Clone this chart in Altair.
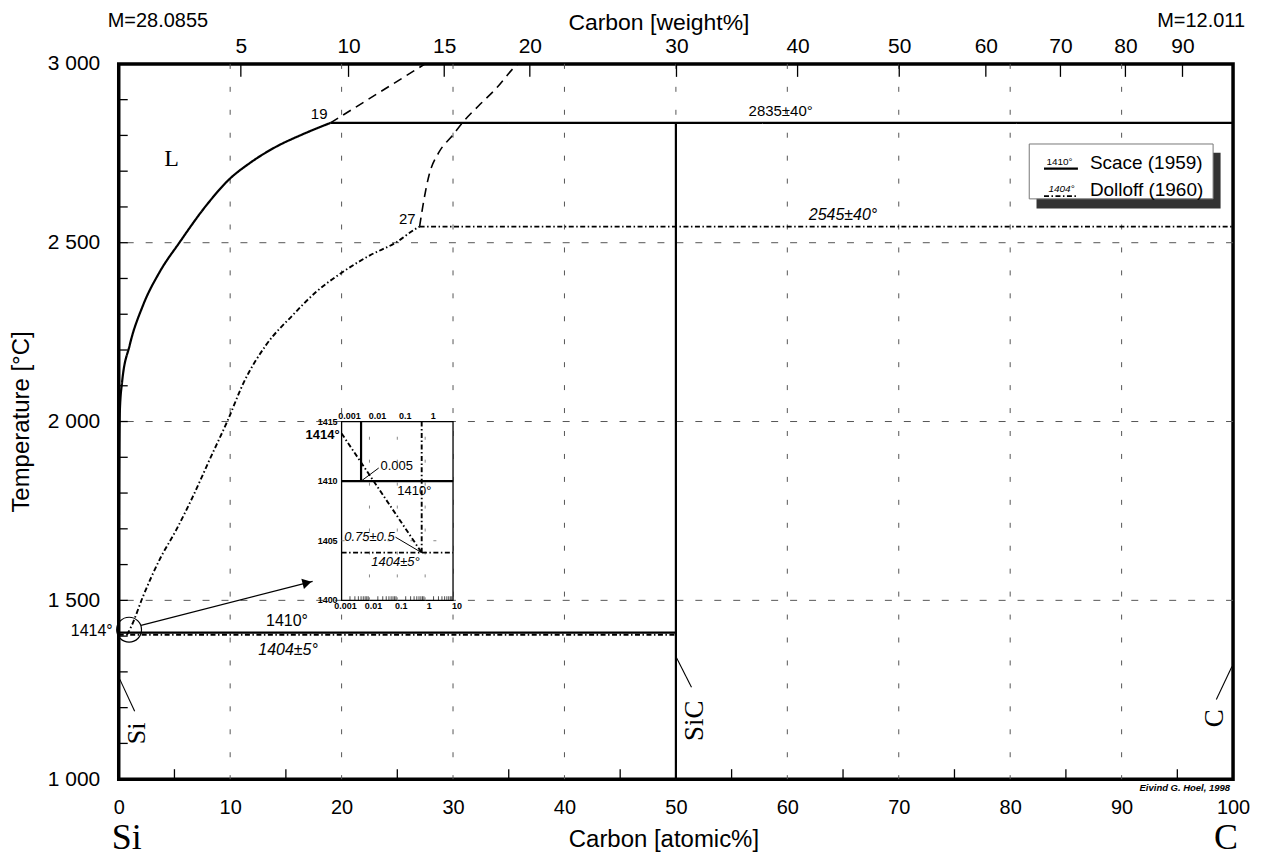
import altair as alt
import pandas as pd

# ------------------------------------------------------------------ data
M_SI, M_C = 28.0855, 12.011

# Scace (1959) liquidus  (carbon atomic %, temperature °C)
scace_liq_at = [0.0, 0.03, 0.1, 0.3, 0.98, 2.18, 3.67, 5.46, 7.85, 9.94, 11.73, 14.1, 16.5, 19.0]
scace_liq_T = [1414, 1850, 2030, 2110, 2213, 2325, 2418, 2501, 2604, 2678, 2722, 2768, 2803, 2835]
scace_ext_at = [19.0, 27.5]
scace_ext_T = [2835, 3000]

# Dolloff (1960) liquidus
dolloff_liq_at = [0.75, 1.14, 2.18, 3.67, 5.16, 6.65, 8.15, 9.79, 11.2, 13.2, 15.6, 17.7, 20.1, 22.5, 24.9, 26.6, 27.0]
dolloff_liq_T = [1404, 1428, 1511, 1614, 1697, 1790, 1893, 2004, 2108, 2213, 2297, 2362, 2418, 2464, 2501, 2538, 2545]
dolloff_ext_at = [27.0, 27.4, 27.84, 28.74, 29.93, 31.0, 32.3, 33.8, 35.6, 35.8]
dolloff_ext_T = [2545, 2622, 2688, 2753, 2799, 2841, 2883, 2929, 2994, 3000]

# invariant lines and the SiC line
seg_style = ["Scace (1959)", "Dolloff (1960)", "Scace (1959)", "Dolloff (1960)", "Scace (1959)"]
seg_x1 = [19, 27, 0, 0, 50]
seg_T1 = [2835, 2545, 1410, 1404, 1000]
seg_x2 = [100, 100, 50, 50, 50]
seg_T2 = [2835, 2545, 1410, 1404, 2835]

# inset (log carbon atomic %, °C)
inset_x_dom = [0.001, 10]
inset_T_dom = [1400, 1415]
iseg_style = ["Scace (1959)", "Scace (1959)", "Dolloff (1960)", "Dolloff (1960)", "Dolloff (1960)"]
iseg_x1 = [0.005, 0.001, 0.001, 0.75, 0.001]
iseg_T1 = [1410, 1410, 1414, 1404, 1404]
iseg_x2 = [0.005, 10, 0.75, 0.75, 10]
iseg_T2 = [1415, 1410, 1404, 1415, 1404]
inset_xtick_vals = [0.001, 0.01, 0.1, 1, 10]
inset_xtick_text = ["0.001", "0.01", "0.1", "1", "10"]
inset_ytick_vals = [1400, 1405, 1410, 1415]

# axes
bottom_vals = list(range(0, 101, 10))
grid_x = list(range(10, 100, 10))
grid_T = [1500, 2000, 2500]
minor_x = list(range(5, 100, 10))
minor_T = list(range(1100, 3000, 100))
top_wt = [5, 10, 15, 20, 30, 40, 50, 60, 70, 80, 90]
top_at = [100 * (w / M_C) / ((w / M_C) + ((100 - w) / M_SI)) for w in top_wt]

# ------------------------------------------------------------------ setup
W, H = 1117, 717
X0, X1, T0, T1 = 0, 100, 1000, 3000
FONT = "Liberation Sans"
SERIF = "Liberation Serif"


def px_x(v):
    return W * (v - X0) / (X1 - X0)


def px_y(v):
    return H * (T1 - v) / (T1 - T0)


xs = alt.Scale(domain=[X0, X1], nice=False, zero=False)
ys = alt.Scale(domain=[T0, T1], nice=False, zero=False)
ixs = alt.Scale(type="log", domain=inset_x_dom, range=[px_x(20), px_x(30)], nice=False)
iys = alt.Scale(domain=inset_T_dom, range=[px_y(1500), px_y(2000)], nice=False, zero=False)

styles = ["Scace (1959)", "Dolloff (1960)", "uncertain"]
dash_scale = alt.Scale(domain=styles, range=[[1, 0], [5, 2.5, 1.5, 2.5], [9, 6]])
width_scale = alt.Scale(domain=styles, range=[2.2, 1.6, 2.0])
legend = alt.Legend(
    values=styles[:2], orient="none", legendX=934.5, legendY=95, title=None,
    symbolType="M-2,0H2", symbolSize=289, symbolStrokeWidth=2, symbolStrokeColor="black",
    labelFont=FONT, labelFontSize=19, labelColor="black", labelOffset=19,
    labelBaseline="alphabetic", rowPadding=7, padding=0,
)
dash_enc = alt.StrokeDash("style:N", scale=dash_scale, legend=legend)
sw_enc = alt.StrokeWidth("style:N", scale=width_scale, legend=None)


def MX(f, scale=xs, axis=None):
    return alt.X(f, type="quantitative", scale=scale, axis=axis)


def MY(f, scale=ys, axis=None):
    return alt.Y(f, type="quantitative", scale=scale, axis=axis)


one = pd.DataFrame({"d": [0]})

bottom_axis = alt.Axis(
    orient="bottom", values=bottom_vals, ticks=False, tickSize=0, domain=False, grid=False,
    labelFont=FONT, labelFontSize=20, labelColor="black", labelPadding=18, labelFlush=False,
    labelOverlap=False, title="Carbon [atomic%]", titleFont=FONT, titleFontSize=24,
    titleFontWeight="normal", titleColor="black", titlePadding=10, titleX=546,
)
left_axis = alt.Axis(
    values=[1000, 1500, 2000, 2500, 3000], labelExpr="replace(format(datum.value, ','), ',', ' ')",
    ticks=False, tickSize=0, domain=False, grid=False, labelFont=FONT, labelFontSize=21,
    labelColor="black", labelPadding=19, labelOverlap=False, labelFlush=False,
    title="Temperature [°C]", titleFont=FONT, titleFontSize=24, titleFontWeight="normal",
    titleColor="black", titlePadding=14,
)
top_axis = alt.Axis(
    orient="top", values=top_at,
    labelExpr=f"format({100*M_C}*datum.value/({M_C}*datum.value+{M_SI}*(100-datum.value)), '.0f')",
    ticks=False, tickSize=0, domain=False, grid=False, labelFont=FONT, labelFontSize=21,
    labelColor="black", labelPadding=7, labelFlush=False, labelOverlap=False,
    title="Carbon  [weight%]", titleFont=FONT, titleFontSize=23, titleFontWeight="normal",
    titleColor="black", titlePadding=1, titleX=541,
)

layers = []

# grid
layers.append(alt.Chart(pd.DataFrame({"v": grid_x})).mark_rule(color="#555", strokeWidth=1, strokeDash=[5, 18])
              .encode(x=MX("v", axis=bottom_axis)))
layers.append(alt.Chart(pd.DataFrame({"v": grid_T})).mark_rule(color="#555", strokeWidth=1, strokeDash=[7, 12])
              .encode(y=MY("v", axis=left_axis)))
# inward ticks
layers.append(alt.Chart(pd.DataFrame({"v": minor_x})).mark_rule(color="black", strokeWidth=1.3)
              .encode(x=MX("v"), y=alt.value(H), y2=alt.value(H - 10)))
layers.append(alt.Chart(pd.DataFrame({"v": minor_T})).mark_rule(color="black", strokeWidth=1.3)
              .encode(y=MY("v"), x=alt.value(0), x2=alt.value(9)))
layers.append(alt.Chart(pd.DataFrame({"v": top_at})).mark_rule(color="black", strokeWidth=1.3)
              .encode(x=MX("v", axis=top_axis), y=alt.value(0), y2=alt.value(13)))

# ---- inset
inset_frame = pd.DataFrame({"x1": [inset_x_dom[0]], "x2": [inset_x_dom[1]], "t1": [inset_T_dom[0]], "t2": [inset_T_dom[1]]})
layers.append(alt.Chart(inset_frame).mark_rect(fill="white", stroke="black", strokeWidth=1.3)
              .encode(x=MX("x1", ixs), x2="x2:Q", y=MY("t1", iys), y2="t2:Q"))
igrid_v = pd.DataFrame({"x": [0.01, 0.1, 1], "t1": [1400] * 3, "t2": [1415] * 3})
layers.append(alt.Chart(igrid_v).mark_rule(color="#888", strokeWidth=1, strokeDash=[3, 20])
              .encode(x=MX("x", ixs), y=MY("t1", iys), y2="t2:Q"))
igrid_h = pd.DataFrame({"t": [1405], "x1": [0.001], "x2": [10]})
layers.append(alt.Chart(igrid_h).mark_rule(color="#888", strokeWidth=1, strokeDash=[3, 20])
              .encode(y=MY("t", iys), x=MX("x1", ixs), x2="x2:Q"))
iminor = [k * 10.0 ** e for e in (-3, -2, -1, 0) for k in range(2, 10)]
layers.append(alt.Chart(pd.DataFrame({"x": iminor, "t": [1400] * len(iminor)}))
              .mark_tick(orient="vertical", size=4, thickness=1, color="black", yOffset=-2)
              .encode(x=MX("x", ixs), y=MY("t", iys)))
isegs = pd.DataFrame({"style": iseg_style, "x1": iseg_x1, "t1": iseg_T1, "x2": iseg_x2, "t2": iseg_T2})
layers.append(alt.Chart(isegs).mark_rule(color="black")
              .encode(x=MX("x1", ixs), x2="x2:Q", y=MY("t1", iys), y2="t2:Q", strokeDash=dash_enc, strokeWidth=sw_enc))
# inset tick labels
ixl_top = pd.DataFrame({"x": inset_xtick_vals[:4], "t": [1415] * 4, "label": inset_xtick_text[:4]})
layers.append(alt.Chart(ixl_top).mark_text(font=FONT, fontSize=9, fontWeight="bold", baseline="bottom", dy=-1, dx=8)
              .encode(x=MX("x", ixs), y=MY("t", iys), text="label:N"))
ixl_bot = pd.DataFrame({"x": inset_xtick_vals, "t": [1400] * 5, "label": inset_xtick_text})
layers.append(alt.Chart(ixl_bot).mark_text(font=FONT, fontSize=9, fontWeight="bold", baseline="top", dy=2, dx=4)
              .encode(x=MX("x", ixs), y=MY("t", iys), text="label:N"))
iyl = pd.DataFrame({"x": [0.001] * 4, "t": inset_ytick_vals, "label": [str(v) for v in inset_ytick_vals]})
layers.append(alt.Chart(iyl).mark_text(font=FONT, fontSize=9, fontWeight="bold", align="right", dx=-4)
              .encode(x=MX("x", ixs), y=MY("t", iys), text="label:N"))
# inset annotations
ia_plain = pd.DataFrame({"label": ["0.005", "1410°"], "x": [0.0248, 0.1], "t": [1411.25, 1409.17]})
layers.append(alt.Chart(ia_plain).mark_text(font=FONT, fontSize=13, align="left")
              .encode(x=MX("x", ixs), y=MY("t", iys), text="label:N"))
ia_it = pd.DataFrame({"label": ["0.75±0.5", "1404±5°"], "x": [0.01, 0.086], "t": [1405.3, 1403.2]})
layers.append(alt.Chart(ia_it).mark_text(font=FONT, fontSize=13, fontStyle="italic")
              .encode(x=MX("x", ixs), y=MY("t", iys), text="label:N"))
layers.append(alt.Chart(pd.DataFrame({"label": ["1414°"], "x": [0.001], "t": [1413.9]}))
              .mark_text(font=FONT, fontSize=13, fontWeight="bold", align="right", dx=-2)
              .encode(x=MX("x", ixs), y=MY("t", iys), text="label:N"))
ileader = pd.DataFrame({"x1": [0.005, 0.75], "t1": [1410, 1404], "x2": [0.0215, 0.086], "t2": [1411.1, 1405.3]})
layers.append(alt.Chart(ileader).mark_rule(color="black", strokeWidth=1)
              .encode(x=MX("x1", ixs), x2="x2:Q", y=MY("t1", iys), y2="t2:Q"))

# ---- main phase lines
rows = []
for name, style, xa, ta in [
    ("scace_liq", "Scace (1959)", scace_liq_at, scace_liq_T),
    ("scace_ext", "uncertain", scace_ext_at, scace_ext_T),
    ("dolloff_liq", "Dolloff (1960)", dolloff_liq_at, dolloff_liq_T),
    ("dolloff_ext", "uncertain", dolloff_ext_at, dolloff_ext_T),
]:
    for i, (a, t) in enumerate(zip(xa, ta)):
        rows.append({"curve": name, "style": style, "at": a, "T": t, "ord": i})
curves = pd.DataFrame(rows)
layers.append(alt.Chart(curves).mark_line(color="black", interpolate="monotone")
              .encode(x=MX("at"), y=MY("T"), detail="curve:N", order="ord:Q",
                      strokeDash=dash_enc, strokeWidth=sw_enc))
segs = pd.DataFrame({"style": seg_style, "x1": seg_x1, "t1": seg_T1, "x2": seg_x2, "t2": seg_T2})
layers.append(alt.Chart(segs).mark_rule(color="black")
              .encode(x=MX("x1"), x2="x2:Q", y=MY("t1"), y2="t2:Q", strokeDash=dash_enc, strokeWidth=sw_enc))

# leader lines and arrow
leaders = pd.DataFrame({"x1": [0.1, 50, 99.9, 2.0], "t1": [1279, 1343, 1315, 1430],
                        "x2": [1.43, 51.4, 98.5, 17.4], "t2": [1190, 1257, 1223, 1553]})
layers.append(alt.Chart(leaders).mark_rule(color="black", strokeWidth=1.1)
              .encode(x=MX("x1"), x2="x2:Q", y=MY("t1"), y2="t2:Q"))
layers.append(alt.Chart(pd.DataFrame({"x": [16.9], "t": [1549]}))
              .mark_point(shape="triangle-right", filled=True, size=110, angle=345.7, color="black", opacity=1)
              .encode(x=MX("x"), y=MY("t")))
layers.append(alt.Chart(pd.DataFrame({"x": [0.93], "t": [1418]}))
              .mark_point(shape="circle", filled=False, size=620, strokeWidth=1.2, color="black", opacity=1)
              .encode(x=MX("x"), y=MY("t")))


# ---- annotations
def ann(label, x, t, **mk):
    return (alt.Chart(pd.DataFrame({"label": [label], "x": [x], "t": [t]}))
            .mark_text(**mk).encode(x=MX("x"), y=MY("t"), text="label:N"))


layers += [
    ann("19", 19, 2835, font=FONT, fontSize=15, align="right", baseline="bottom", dx=-3, dy=-1),
    ann("27", 27, 2545, font=FONT, fontSize=15, align="right", baseline="bottom", dx=-4, dy=0),
    ann("2835±40°", 59.4, 2835, font=FONT, fontSize=15, dy=-11.5),
    ann("2545±40°", 65.0, 2545, font=FONT, fontSize=16, fontStyle="italic", dy=-11.5),
    ann("1410°", 15.1, 1410, font=FONT, fontSize=16, dy=-11.5),
    ann("1404±5°", 15.2, 1404, font=FONT, fontSize=16, fontStyle="italic", dy=15),
    ann("1414°", 0, 1414, font=FONT, fontSize=16, align="right", dx=-6),
    ann("L", 4.75, 2735, font=SERIF, fontSize=24),
    ann("Si", 1.66, 1128, font=SERIF, fontSize=26, angle=270),
    ann("SiC", 51.72, 1163, font=SERIF, fontSize=27, angle=270),
    ann("C", 98.4, 1170, font=SERIF, fontSize=27, angle=270),
    ann("Eivind G. Hoel, 1998", 100, 1000, font=FONT, fontSize=9.5, fontStyle="italic", fontWeight="bold",
        align="right", dx=-3, dy=9),
    ann("Si", 0, 1000, font=SERIF, fontSize=36, dx=8, dy=59),
    ann("C", 100, 1000, font=SERIF, fontSize=36, dx=-7, dy=59),
    ann("M=28.0855", 0, 3000, font=FONT, fontSize=20, align="left", dx=-11, dy=-43),
    ann("M=12.011", 100, 3000, font=FONT, fontSize=20, align="right", dx=12, dy=-43),
]

# ---- legend box with shadow (the entries are the strokeDash legend)
layers.append(alt.Chart(one).mark_rect(color="#333")
              .encode(x=alt.value(920), x2=alt.value(1104.5), y=alt.value(89), y2=alt.value(145)))
layers.append(alt.Chart(one).mark_rect(fill="white", stroke="#777", strokeWidth=1)
              .encode(x=alt.value(912.7), x2=alt.value(1097), y=alt.value(80.3), y2=alt.value(135.3)))
layers.append(alt.Chart(one).mark_text(font=FONT, fontSize=10, text="1410°")
              .encode(x=alt.value(943), y=alt.value(98.7)))
layers.append(alt.Chart(one).mark_text(font=FONT, fontSize=10, fontStyle="italic", text="1404°")
              .encode(x=alt.value(945), y=alt.value(125)))

chart = (
    alt.layer(*layers)
    .resolve_scale(x="independent", y="independent")
    .properties(width=W, height=H, background="white",
                padding={"left": 111, "top": 55, "right": 20, "bottom": 80},
                autosize=alt.AutoSizeParams(type="none"))
    .configure(font=FONT)
    .configure_view(stroke="black", strokeWidth=3.5)
)
chart.save("out.html", embed_options={"renderer": "svg", "actions": False})
